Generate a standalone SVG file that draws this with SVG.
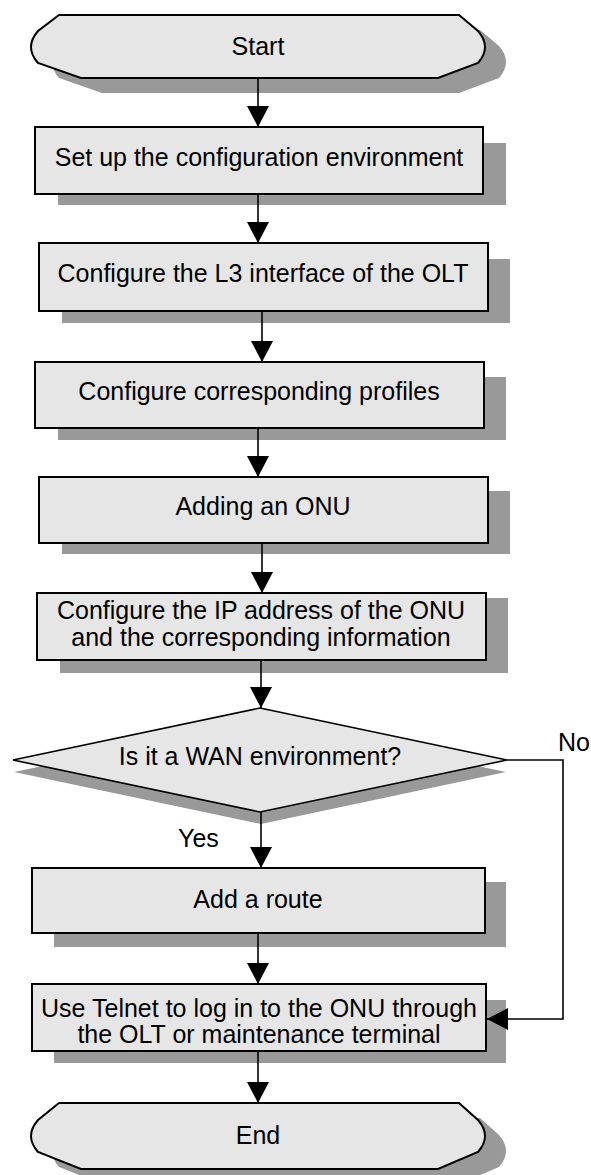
<svg xmlns="http://www.w3.org/2000/svg" width="591" height="1175" viewBox="0 0 591 1175">
  <style>
    .shadow { fill: #999999; stroke: none; }
    .box { fill: #e6e6e6; stroke: #000000; stroke-width: 2; }
    .dia { fill: #e6e6e6; stroke: #000000; stroke-width: 1.6; }
    .label { font-family: "Liberation Sans", Arial, sans-serif; font-size: 25px; fill: #000000; text-anchor: middle; }
    .tag { font-family: "Liberation Sans", Arial, sans-serif; font-size: 25px; fill: #000000; }
    .conn { fill: none; stroke: #000000; stroke-width: 1.6; }
  </style>
  <defs>
    <marker id="arrow" markerUnits="userSpaceOnUse" markerWidth="22" markerHeight="22" refX="21" refY="11" orient="auto">
      <path d="M0,0 L21,11 L0,22 Z" fill="#000000"/>
    </marker>
  </defs>

  <rect width="591" height="1175" fill="#ffffff"/>

  <!-- Start terminator -->
  <g id="start">
    <path class="shadow" transform="translate(21,15)" d="M59,15 H459 L478,31 Q485,39 485,47 Q485,55 478,63 L438,78 H81 L38,63 Q31,55 31,47 Q31,39 38,31 Z"/>
    <path class="box" d="M59,15 H459 L478,31 Q485,39 485,47 Q485,55 478,63 L438,78 H81 L38,63 Q31,55 31,47 Q31,39 38,31 Z"/>
    <text class="label" x="258" y="55">Start</text>
  </g>

  <g id="setup-env">
    <rect class="shadow" x="58" y="143" width="448" height="62"/>
    <rect class="box" x="35" y="127" width="448" height="67"/>
    <text class="label" x="259" y="166">Set up the configuration environment</text>
  </g>

  <g id="config-l3">
    <rect class="shadow" x="62" y="259" width="448" height="64"/>
    <rect class="box" x="39" y="243" width="449" height="68"/>
    <text class="label" x="263" y="282">Configure the L3 interface of the OLT</text>
  </g>

  <g id="config-profiles">
    <rect class="shadow" x="58" y="377" width="448" height="63"/>
    <rect class="box" x="35" y="362" width="449" height="66"/>
    <text class="label" x="259" y="400">Configure corresponding profiles</text>
  </g>

  <g id="add-onu">
    <rect class="shadow" x="62" y="491" width="448" height="63"/>
    <rect class="box" x="39" y="477" width="449" height="66"/>
    <text class="label" x="263" y="515">Adding an ONU</text>
  </g>

  <g id="config-ip">
    <rect class="shadow" x="60" y="598" width="448" height="75"/>
    <rect class="box" x="37" y="593" width="449" height="67"/>
    <text class="label" x="261" y="619">Configure the IP address of the ONU</text>
    <text class="label" x="261" y="646">and the corresponding information</text>
  </g>

  <g id="wan-check">
    <polygon class="shadow" points="261,720 506,772 261,824 14,772"/>
    <polygon class="dia" points="260,708 507,760 260,812 13,760"/>
    <text class="label" x="260" y="765">Is it a WAN environment?</text>
  </g>

  <g id="add-route">
    <rect class="shadow" x="54" y="882" width="452" height="65"/>
    <rect class="box" x="32" y="868" width="453" height="65"/>
    <text class="label" x="258" y="908">Add a route</text>
  </g>

  <g id="telnet-login">
    <rect class="shadow" x="54" y="1000" width="452" height="63"/>
    <rect class="box" x="32" y="984" width="454" height="67"/>
    <text class="label" x="259" y="1017">Use Telnet to log in to the ONU through</text>
    <text class="label" x="259" y="1043">the OLT or maintenance terminal</text>
  </g>

  <!-- End terminator -->
  <g id="end">
    <path class="shadow" transform="translate(21,15)" d="M59,1103 H459 L478,1120 Q485,1128 485,1136 Q485,1144 478,1152 L438,1169 H81 L38,1152 Q31,1144 31,1136 Q31,1128 38,1120 Z"/>
    <path class="box" d="M59,1103 H459 L478,1120 Q485,1128 485,1136 Q485,1144 478,1152 L438,1169 H81 L38,1152 Q31,1144 31,1136 Q31,1128 38,1120 Z"/>
    <text class="label" x="258" y="1144">End</text>
  </g>

  <!-- Connectors -->
  <g id="connectors">
    <line class="conn" x1="258" y1="79" x2="258" y2="127" marker-end="url(#arrow)"/>
    <line class="conn" x1="258" y1="195" x2="258" y2="243" marker-end="url(#arrow)"/>
    <line class="conn" x1="262" y1="312" x2="262" y2="362" marker-end="url(#arrow)"/>
    <line class="conn" x1="258" y1="429" x2="258" y2="477" marker-end="url(#arrow)"/>
    <line class="conn" x1="262" y1="544" x2="262" y2="593" marker-end="url(#arrow)"/>
    <line class="conn" x1="261" y1="661" x2="261" y2="708" marker-end="url(#arrow)"/>
    <line class="conn" x1="261" y1="812" x2="261" y2="868" marker-end="url(#arrow)"/>
    <line class="conn" x1="258" y1="934" x2="258" y2="984" marker-end="url(#arrow)"/>
    <line class="conn" x1="258" y1="1052" x2="258" y2="1103" marker-end="url(#arrow)"/>
    <polyline class="conn" points="507,760 563,760 563,1019 487,1019" marker-end="url(#arrow)"/>
    <text class="tag" x="558" y="751">No</text>
    <text class="tag" x="178" y="847">Yes</text>
  </g>
</svg>
